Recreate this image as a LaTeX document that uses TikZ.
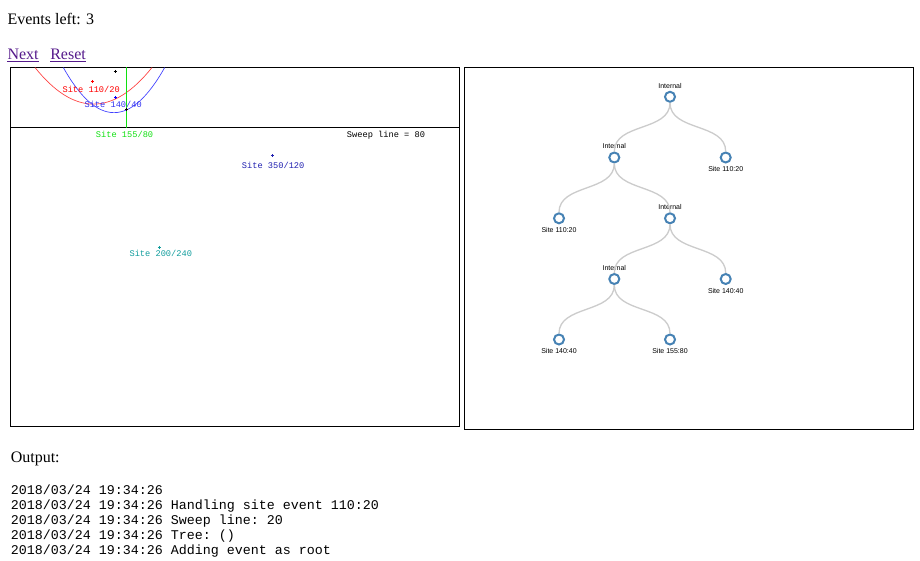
\documentclass[tikz,border=0pt]{standalone}
\usepackage{fontspec}
\setmainfont{Liberation Serif}
\setsansfont{Liberation Sans}
\setmonofont{Liberation Mono}
\usetikzlibrary{positioning}
\definecolor{visited}{HTML}{551A8B}
\definecolor{steel}{HTML}{4682B4}
\definecolor{sweepgreen}{HTML}{10E010}
\definecolor{navysite}{HTML}{2020B0}
\definecolor{tealsite}{HTML}{109C9C}
\definecolor{bluesite}{HTML}{3030F0}
\tikzset{
  pagetxt/.style={font=\fontsize{12}{14}\selectfont,inner sep=0pt,anchor=base west},
  linktxt/.style={pagetxt,text=visited},
  sitetxt/.style={font=\ttfamily\fontsize{6.5}{7}\selectfont,inner sep=0pt,anchor=west},
  logtxt/.style={font=\ttfamily\fontsize{10}{12}\selectfont,inner sep=0pt,anchor=base west},
  treetxt/.style={font=\sffamily\fontsize{5.25}{6}\selectfont,inner sep=0pt},
  leaf/.style={circle,draw=steel,fill=white,line width=1.5pt,minimum size=7.5pt,inner sep=0pt,
    label={[treetxt,label distance=2.1pt]below:{#1}}},
  internal/.style={circle,draw=steel,fill=white,line width=1.5pt,minimum size=7.5pt,inner sep=0pt,
    label={[treetxt,label distance=1.7pt]above:Internal}},
  treelink/.style={draw=black!20,line width=1pt}
}
\begin{document}
\begin{tikzpicture}[x=0.75pt,y=-0.75pt]
\useasboundingbox (0,0) rectangle (920,560);
% header
\node[pagetxt] (left) at (7.3,24.3) {Events left: 3};
\node[linktxt] (next) at (7.3,59.3) {Next};
\node[linktxt] (reset) at (50,59.3) {Reset};
\draw[visited,line width=0.75pt] ([yshift=-1.6pt]next.base west) -- ([yshift=-1.6pt]next.base east);
\draw[visited,line width=0.75pt] ([yshift=-1.6pt]reset.base west) -- ([yshift=-1.6pt]reset.base east);
% voronoi panel
\draw[line width=0.75pt] (10.5,67.5) rectangle (459.5,426.5);
\draw[line width=0.75pt] (10.5,127.5) -- (459.5,127.5);
\draw[red!75,line width=0.5pt] (35,67.5) .. controls (74,116.3) and (113,116.3) .. (152,67.5);
\draw[blue!75,line width=0.5pt] (63.3,67.5) .. controls (97.1,127.7) and (130.9,127.7) .. (164.7,67.5);
\draw[sweepgreen,line width=0.9pt] (126.5,67.5) -- (126.5,127.5);
\foreach \x/\y/\c in {115/71.3/black, 92.3/81.3/red, 115.7/97.3/blue, 126.3/109.7/black, 272.3/155.7/navysite, 159.3/247.3/tealsite} % site markers
\draw[\c,line width=0.6pt,shift={(\x,\y)}] (-1.5,0) -- (1.5,0) (0,-1.5) -- (0,1.5);
\node[sitetxt,text=red] (s110) at (62.3,89) {Site 110/20};
\node[sitetxt,text=bluesite] (s140) at (84.3,104.7) {Site 140/40};
\node[sitetxt,text=sweepgreen] (s155) at (95.7,134.7) {Site 155/80};
\node[sitetxt] (sweep) at (346.7,135) {Sweep line = 80};
\node[sitetxt,text=navysite] (s350) at (241.7,165) {Site 350/120};
\node[sitetxt,text=tealsite] (s200) at (129.3,253.3) {Site 200/240};
% tree panel
\draw[line width=0.75pt] (464.5,67.5) rectangle (913.5,429.5);
\node[internal] (root) at (670,96.8) {};
\node[internal] (i1) at (614.3,157.5) {};
\node[leaf={Site 110:20}] (l1) at (725.7,157.5) {};
\node[leaf={Site 110:20}] (l2) at (559,218.3) {};
\node[internal] (i2) at (670,218.3) {};
\node[internal] (i3) at (614.3,279) {};
\node[leaf={Site 140:40}] (l3) at (725.7,279) {};
\node[leaf={Site 140:40}] (l4) at (559,339.5) {};
\node[leaf={Site 155:80}] (l5) at (670,339.5) {};
\foreach \a/\b in {root/i1, root/l1, i1/l2, i1/i2, i2/i3, i2/l3, i3/l4, i3/l5}
\draw[treelink] (\a) to[out=-90,in=90] (\b);
% log
\node[pagetxt] (out) at (10.5,462.5) {Output:};
\foreach \msg [count=\i] in {{},{Handling site event 110:20},{Sweep line: 20},{Tree: ()},{Adding event as root}}
\node[logtxt] (log\i) at (10.5,{479+15*\i}) {2018/03/24 19:34:26 \msg};
\end{tikzpicture}
\end{document}
